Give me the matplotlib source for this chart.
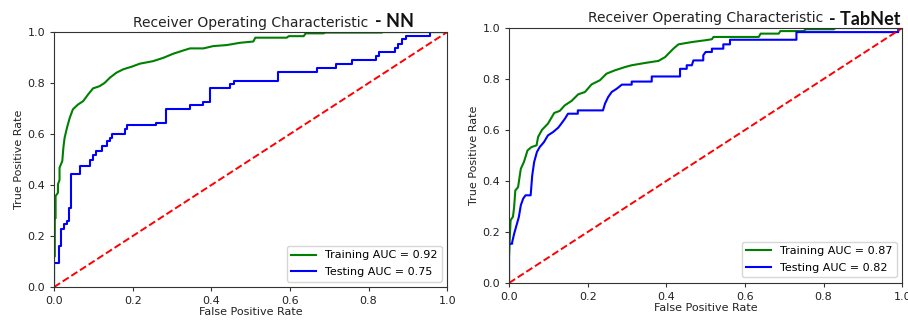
import numpy as np
import matplotlib.pyplot as plt

# ROC points (fpr, tpr)
nn_train_fpr = [0, 0, 0.002, 0.002, 0.004, 0.004, 0.010, 0.010, 0.014, 0.014, 0.021, 0.024,
                0.027, 0.033, 0.040, 0.048, 0.061, 0.074, 0.087, 0.099, 0.116, 0.129, 0.142,
                0.159, 0.176, 0.197, 0.218, 0.252, 0.278, 0.303, 0.329, 0.346, 0.380, 0.405,
                0.439, 0.473, 0.507, 0.512, 0.592, 0.597, 0.635, 0.640, 0.686, 0.690, 0.834,
                0.834, 1.0]
nn_train_tpr = [0, 0.12, 0.12, 0.27, 0.27, 0.357, 0.37, 0.403, 0.42, 0.468, 0.494, 0.55,
                0.586, 0.625, 0.664, 0.697, 0.716, 0.729, 0.756, 0.779, 0.788, 0.801, 0.821,
                0.841, 0.854, 0.864, 0.876, 0.886, 0.899, 0.915, 0.928, 0.936, 0.936, 0.945,
                0.949, 0.958, 0.963, 0.978, 0.978, 0.984, 0.984, 0.995, 0.995, 0.998, 0.998,
                1.0, 1.0]

nn_test_fpr = [0, 0, 0.013, 0.013, 0.019, 0.019, 0.025, 0.025, 0.033, 0.033, 0.037, 0.037,
               0.044, 0.044, 0.065, 0.065, 0.091, 0.091, 0.099, 0.099, 0.108, 0.108, 0.121,
               0.121, 0.135, 0.135, 0.142, 0.142, 0.148, 0.148, 0.180, 0.180, 0.186, 0.186,
               0.259, 0.259, 0.286, 0.286, 0.346, 0.346, 0.380, 0.380, 0.397, 0.397, 0.448,
               0.448, 0.457, 0.457, 0.570, 0.570, 0.668, 0.668, 0.717, 0.717, 0.758, 0.758,
               0.820, 0.820, 0.826, 0.826, 0.866, 0.866, 0.874, 0.874, 0.885, 0.885, 0.894,
               0.894, 0.957, 0.957, 1.0]
nn_test_tpr = [0, 0.095, 0.095, 0.16, 0.16, 0.226, 0.226, 0.246, 0.246, 0.259, 0.259, 0.311,
               0.311, 0.442, 0.442, 0.475, 0.475, 0.50, 0.50, 0.518, 0.518, 0.533, 0.533,
               0.553, 0.553, 0.573, 0.573, 0.586, 0.586, 0.601, 0.601, 0.618, 0.618, 0.635,
               0.635, 0.645, 0.645, 0.697, 0.697, 0.714, 0.714, 0.727, 0.727, 0.782, 0.782,
               0.795, 0.795, 0.81, 0.81, 0.845, 0.845, 0.86, 0.86, 0.876, 0.876, 0.889,
               0.889, 0.908, 0.908, 0.92, 0.92, 0.937, 0.937, 0.954, 0.954, 0.973, 0.973,
               0.986, 0.986, 1.0, 1.0]

tab_train_fpr = [0, 0, 0.002, 0.004, 0.010, 0.013, 0.016, 0.023, 0.030, 0.038, 0.047, 0.057,
                 0.070, 0.074, 0.084, 0.099, 0.115, 0.129, 0.142, 0.159, 0.176, 0.193, 0.210,
                 0.231, 0.248, 0.269, 0.295, 0.312, 0.346, 0.380, 0.397, 0.418, 0.431, 0.465,
                 0.499, 0.516, 0.520, 0.635, 0.640, 0.686, 0.690, 0.749, 0.755, 0.826, 0.830,
                 1.0]
tab_train_tpr = [0, 0.10, 0.18, 0.246, 0.26, 0.298, 0.363, 0.376, 0.448, 0.475, 0.52, 0.533,
                 0.54, 0.573, 0.601, 0.625, 0.667, 0.675, 0.697, 0.714, 0.74, 0.749, 0.779,
                 0.795, 0.821, 0.834, 0.847, 0.854, 0.863, 0.871, 0.886, 0.919, 0.936, 0.945,
                 0.952, 0.956, 0.965, 0.965, 0.978, 0.978, 0.988, 0.988, 0.995, 0.995, 1.0,
                 1.0]

tab_test_fpr = [0, 0, 0.008, 0.008, 0.013, 0.019, 0.025, 0.030, 0.036, 0.042, 0.055, 0.059,
                0.064, 0.071, 0.078, 0.089, 0.099, 0.112, 0.125, 0.133, 0.142, 0.150, 0.175,
                0.175, 0.239, 0.244, 0.252, 0.261, 0.274, 0.287, 0.312, 0.312, 0.363, 0.363,
                0.435, 0.435, 0.452, 0.452, 0.465, 0.469, 0.494, 0.494, 0.50, 0.516, 0.516,
                0.545, 0.545, 0.562, 0.562, 0.731, 0.731, 0.99, 0.99, 1.0]
tab_test_tpr = [0, 0.154, 0.154, 0.16, 0.193, 0.226, 0.259, 0.305, 0.331, 0.344, 0.344, 0.422,
                0.475, 0.514, 0.533, 0.553, 0.579, 0.592, 0.609, 0.625, 0.644, 0.664, 0.664,
                0.677, 0.677, 0.703, 0.729, 0.749, 0.762, 0.778, 0.778, 0.79, 0.79, 0.81,
                0.81, 0.84, 0.84, 0.854, 0.854, 0.873, 0.873, 0.893, 0.906, 0.906, 0.919,
                0.919, 0.936, 0.936, 0.954, 0.954, 0.984, 0.984, 1.0, 1.0]

models = ["NN", "TabNet"]
train_auc = [0.92, 0.87]
test_auc = [0.75, 0.82]

curves = [(nn_train_fpr, nn_train_tpr, nn_test_fpr, nn_test_tpr),
          (tab_train_fpr, tab_train_tpr, tab_test_fpr, tab_test_tpr)]

fig = plt.figure(figsize=(9.08, 3.24), dpi=100)
ax_pos = [[0.0595, 0.114, 0.433, 0.787], [0.5606, 0.1265, 0.433, 0.787]]
tag_pos = [(0.817, 1.018), (0.814, 1.012)]

for i, name in enumerate(models):
    ax = fig.add_axes(ax_pos[i])
    tr_f, tr_t, te_f, te_t = curves[i]
    ax.plot(tr_f, tr_t, color='green', lw=1.5, label='Training AUC = %0.2f' % train_auc[i])
    ax.plot(te_f, te_t, color='blue', lw=1.5, label='Testing AUC = %0.2f' % test_auc[i])
    ax.plot([0, 1], [0, 1], 'r--', lw=1.4)
    ax.set_xlim(0, 1)
    ax.set_ylim(0, 1)
    ax.set_xticks(np.arange(0, 1.01, 0.2))
    ax.set_yticks(np.arange(0, 1.01, 0.2))
    ax.tick_params(labelsize=8, length=3, color='#333333', labelcolor='#222222')
    for s in ax.spines.values():
        s.set_color('#333333')
    ax.set_xlabel('False Positive Rate', fontsize=8, color='#222222', labelpad=1)
    ax.set_ylabel('True Positive Rate', fontsize=8, color='#222222', labelpad=2)
    ax.set_title('Receiver Operating Characteristic', fontsize=10, color='#222222', pad=4)
    ax.text(tag_pos[i][0], tag_pos[i][1], '- ' + name, transform=ax.transAxes,
            fontsize=13, fontweight='bold', family='Lato', color='#111111', va='baseline')
    ax.legend(loc='lower right', fontsize=8, handlelength=2.2, labelspacing=0.6)

plt.savefig('out.png', dpi=100)
